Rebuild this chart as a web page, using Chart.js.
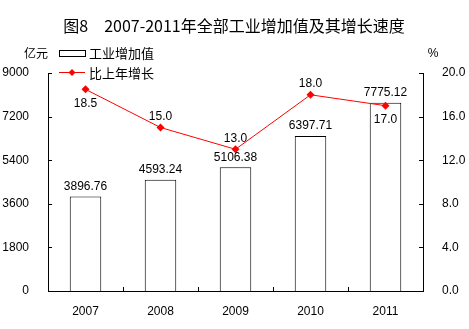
<!DOCTYPE html>
<html><head><meta charset="utf-8">
<script src="https://cdn.jsdelivr.net/npm/chart.js@4/dist/chart.umd.min.js"></script>
<style>html,body{margin:0;padding:0;background:#fff;}#w{width:469px;height:329px;}</style>
</head><body><div id="w"><canvas id="c" width="469" height="329"></canvas></div>
<script>
const categories = ['2007','2008','2009','2010','2011'];
const industryValue = [3896.76, 4593.24, 5106.38, 6397.71, 7775.12];
const growthRate = [18.5, 15.0, 13.0, 18.0, 17.0];
const growthLabelBelow = [true, false, false, false, true];
const barLabel = '工业增加值';
const lineLabel = '比上年增长';
const titleText = '图8　2007-2011年全部工业增加值及其增长速度';

const FONT = '"Liberation Sans", Arial, sans-serif';
const CJK = '"Noto Sans CJK SC", sans-serif';

const deco = {
  id: 'deco',
  afterDraw(chart) {
    const ctx = chart.ctx;
    const ca = chart.chartArea;
    const yL = chart.scales.y, yR = chart.scales.y1, x = chart.scales.x;
    ctx.save();
    ctx.strokeStyle = '#000'; ctx.lineWidth = 1;
    yL.ticks.forEach(t => { const py = Math.round(yL.getPixelForValue(t.value)) + 0.5;
      ctx.beginPath(); ctx.moveTo(ca.left, py); ctx.lineTo(ca.left + 4, py); ctx.stroke(); });
    yR.ticks.forEach(t => { const py = Math.round(yR.getPixelForValue(t.value)) + 0.5;
      ctx.beginPath(); ctx.moveTo(ca.right, py); ctx.lineTo(ca.right - 4, py); ctx.stroke(); });
    for (let i = 1; i < categories.length; i++) {
      const px = Math.round((x.getPixelForValue(i - 1) + x.getPixelForValue(i)) / 2) + 0.5;
      ctx.beginPath(); ctx.moveTo(px, ca.bottom); ctx.lineTo(px, ca.bottom - 4); ctx.stroke();
    }
    ctx.fillStyle = '#000'; ctx.font = '12px ' + FONT; ctx.textAlign = 'center'; ctx.textBaseline = 'middle';
    chart.getDatasetMeta(1).data.forEach((el, i) => {
      ctx.fillText(industryValue[i].toFixed(2), el.x, el.y - 10);
    });
    chart.getDatasetMeta(0).data.forEach((el, i) => {
      ctx.fillText(growthRate[i].toFixed(1), el.x, growthLabelBelow[i] ? el.y + 14 : el.y - 11);
    });
    ctx.font = '16px ' + CJK;
    ctx.fillText(titleText, 234, 26);
    ctx.font = '12px ' + CJK;
    ctx.fillText('亿元', 36, 53);
    ctx.font = '12px ' + FONT;
    ctx.fillText('%', 433, 54);
    ctx.strokeRect(59.5, 50.5, 26, 6);
    ctx.font = '13px ' + CJK; ctx.textAlign = 'left';
    ctx.fillText(barLabel, 89, 53);
    ctx.fillText(lineLabel, 89, 73);
    ctx.strokeStyle = '#ff0000';
    ctx.beginPath(); ctx.moveTo(59, 72.5); ctx.lineTo(85, 72.5); ctx.stroke();
    ctx.fillStyle = '#ff0000';
    ctx.beginPath(); ctx.moveTo(72, 69); ctx.lineTo(75.5, 72.5); ctx.lineTo(72, 76); ctx.lineTo(68.5, 72.5); ctx.closePath(); ctx.fill();
    ctx.restore();
  }
};

new Chart(document.getElementById('c'), {
  data: {
    labels: categories,
    datasets: [
      { type: 'line', label: lineLabel, data: growthRate, yAxisID: 'y1', borderColor: '#ff0000', borderWidth: 1,
        backgroundColor: '#ff0000', pointStyle: 'rectRot', pointRadius: 4, pointBorderWidth: 0, tension: 0, order: 0 },
      { type: 'bar', label: barLabel, data: industryValue, yAxisID: 'y', backgroundColor: '#ffffff', borderColor: '#000000',
        borderWidth: 1, barPercentage: 0.42, categoryPercentage: 1, order: 1 }
    ]
  },
  options: {
    responsive: false, animation: false, devicePixelRatio: 1,
    layout: { padding: { top: 73, left: 0, right: 0, bottom: 0 } },
    plugins: { legend: { display: false }, title: { display: false }, tooltip: { enabled: false } },
    scales: {
      x: { grid: { display: false }, border: { color: '#000', width: 1 },
        ticks: { color: '#000', font: { family: FONT, size: 12 }, padding: 5 },
        afterFit(s) { s.height = 38; } },
      y: { position: 'left', min: 0, max: 9000, grid: { display: false }, border: { color: '#000', width: 1 },
        ticks: { stepSize: 1800, color: '#000', font: { family: FONT, size: 12 }, padding: 11, callback: v => String(v) },
        afterFit(s) { s.width = 48; } },
      y1: { position: 'right', min: 0, max: 20, grid: { display: false }, border: { color: '#000', width: 1 },
        ticks: { stepSize: 4, color: '#000', font: { family: FONT, size: 12 }, padding: 11, callback: v => v.toFixed(1) },
        afterFit(s) { s.width = 46; } }
    }
  },
  plugins: [deco]
});
</script>
</body></html>
